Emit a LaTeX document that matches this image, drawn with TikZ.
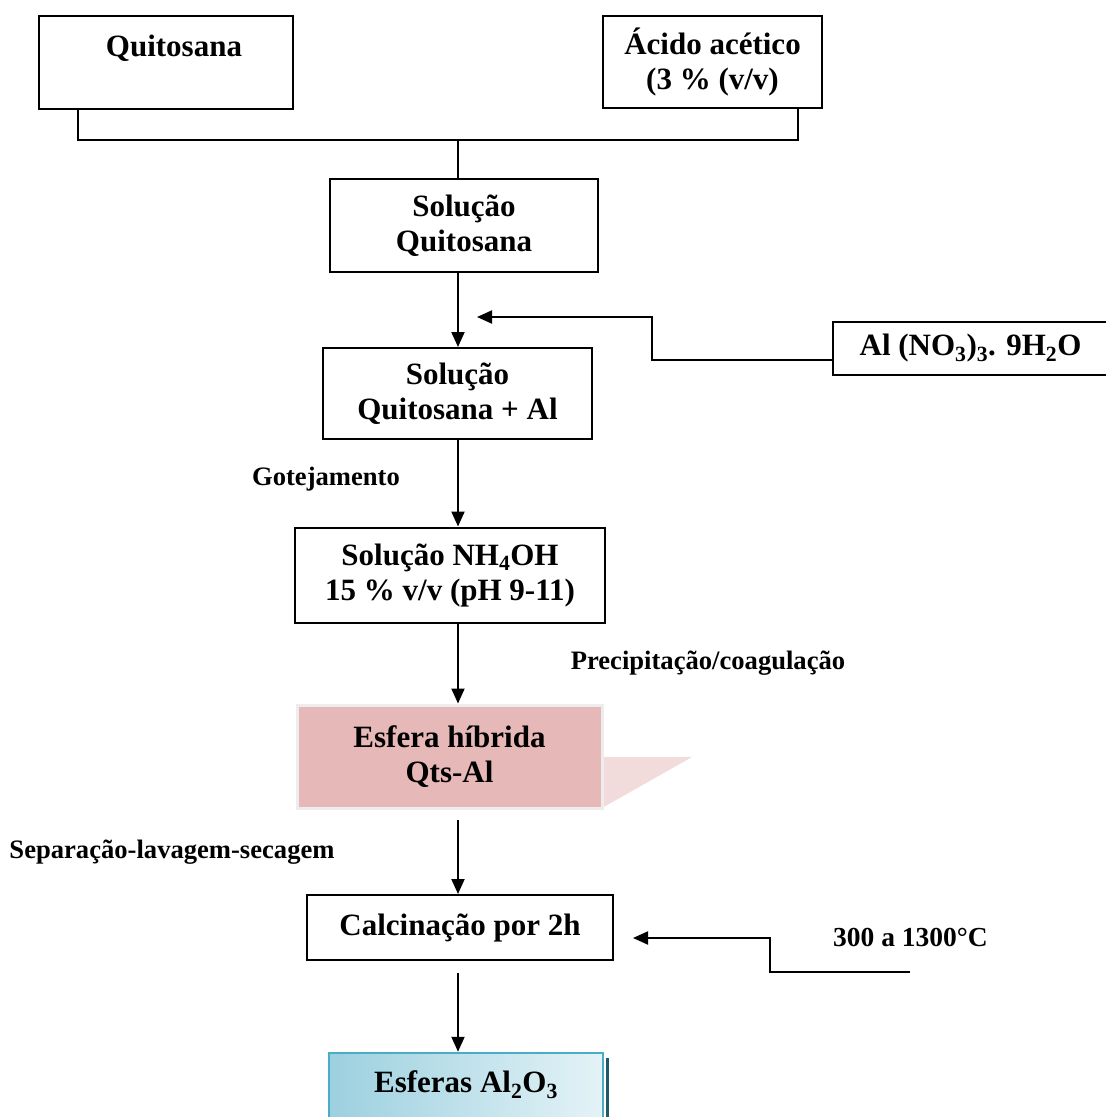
\documentclass[tikz,border=0pt]{standalone}
\usepackage{fontspec}
\setmainfont{Liberation Serif}
\usetikzlibrary{arrows.meta,calc}
\definecolor{pinkbox}{HTML}{E6B8B7}
\definecolor{pinktri}{HTML}{F2DCDB}
\definecolor{bluebd}{HTML}{4BACC6}
\definecolor{blueL}{HTML}{9CD0DF}
\definecolor{blueR}{HTML}{E4F3F7}
\definecolor{blueSh}{HTML}{215968}
\tikzset{
  x=1pt,y=-1pt,
  box/.style={draw=black,line width=2pt,inner sep=0pt,align=center,font=\fontsize{31}{35}\selectfont\bfseries},
  maintxt/.style={inner sep=0pt,align=center,font=\fontsize{31}{35}\selectfont\bfseries},
  lbl/.style={inner sep=0pt,font=\fontsize{26.6}{30}\selectfont\bfseries},
  conn/.style={line width=2pt},
  arr/.style={line width=2pt,-{Triangle[width=13pt,length=15pt]}}
}
\begin{document}
\begin{tikzpicture}
\useasboundingbox (0,0) rectangle (1106,1117);
% top boxes
\node[box,minimum width=254pt,minimum height=93pt] (quit) at (166,62.5) {};
\node[maintxt] (quittxt) at (174,48) {Quitosana};
\node[box,minimum width=219pt,minimum height=92pt] (acid) at (712.5,62) {\'Acido ac\'etico\\(3 \% (v/v)};
% bracket
\coordinate (j) at (458,140);
\draw[conn] ([xshift=40pt]quit.south west) |- (j) -| ([xshift=-25pt]acid.south east);
\node[box,minimum width=268pt,minimum height=93pt] (solq) at (464,225.5) {Solu\c{c}\~ao\\Quitosana};
\draw[conn] (j) -- (solq.north -| j);
\node[box,minimum width=269pt,minimum height=91pt] (solqal) at (457.5,393.5) {Solu\c{c}\~ao\\Quitosana + Al};
\draw[arr] (solq.south -| j) -- (solqal.north -| j);
% Al nitrate
\node[box,minimum width=275pt,minimum height=53pt] (alb) at (970.5,348.5) {Al (NO\textsubscript{3})\textsubscript{3}. 9H\textsubscript{2}O};
\coordinate (a1) at (477,317);
\draw[arr] ([yshift=-11.5pt]alb.west) -| (652,317) -- (a1);
% Gotejamento
\node[lbl] (got) at (326,479) {Gotejamento};
\node[box,minimum width=310pt,minimum height=95pt] (nh) at (450,575) {Solu\c{c}\~ao NH\textsubscript{4}OH\\15 \% v/v (pH 9-11)};
\draw[arr] (solqal.south -| j) -- (nh.north -| j);
\node[lbl] (prec) at (708,663) {Precipita\c{c}\~ao/coagula\c{c}\~ao};
% Esfera hibrida
\fill[pinktri] (602,757) -- (692,757) -- (602,808) -- cycle;
\node[box,draw=black!7,line width=3pt,fill=pinkbox,minimum width=305pt,minimum height=103pt] (esf) at (449.5,756.5) {Esfera h\'ibrida\\Qts-Al};
\draw[arr] (nh.south -| j) -- (esf.north -| j);
\node[lbl] (sep) at (172,852) {Separa\c{c}\~ao-lavagem-secagem};
\node[box,minimum width=306pt,minimum height=65pt] (calc) at (460,927.5) {Calcina\c{c}\~ao por 2h};
\draw[arr] ([yshift=-10pt]esf.south -| j) -- (calc.north -| j);
% temperature
\node[lbl,font=\fontsize{27.5}{30}\selectfont\bfseries] (temp) at (910.5,937) {300 a 1300\textdegree C};
\coordinate (t1) at (910,972);
\coordinate (a2) at (633,938);
\draw[arr] (t1) -| (770,938) -- (a2);
% Esferas Al2O3
\fill[blueSh] (606,1058) rectangle (609,1117);
\node[box,draw=bluebd,line width=2.5pt,left color=blueL,right color=blueR,minimum width=274pt,minimum height=90pt] (alo) at (466,1098) {};
\node[maintxt] (alotxt) at (466,1085) {Esferas Al\textsubscript{2}O\textsubscript{3}};
\draw[arr] ([yshift=-12pt]calc.south -| j) -- (alo.north -| j);
\end{tikzpicture}
\end{document}
